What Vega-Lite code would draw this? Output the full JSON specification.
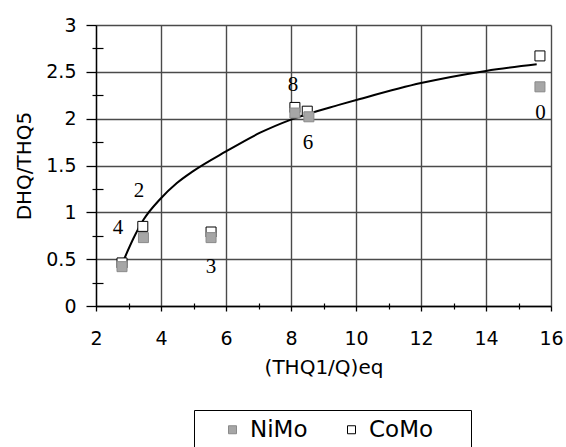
{
  "$schema": "https://vega.github.io/schema/vega-lite/v6.json",
  "width": 455,
  "height": 281,
  "autosize": {"type": "none"},
  "padding": {"left": 96, "top": 25, "right": 15, "bottom": 141},
  "config": {"view": {"stroke": null}, "font": "DejaVu Sans"},
  "datasets": {
    "pts": [
      {"x": 2.8, "y": 0.46, "series": "CoMo"},
      {"x": 3.44, "y": 0.85, "series": "CoMo"},
      {"x": 5.54, "y": 0.79, "series": "CoMo"},
      {"x": 8.12, "y": 2.12, "series": "CoMo"},
      {"x": 8.5, "y": 2.08, "series": "CoMo"},
      {"x": 15.66, "y": 2.67, "series": "CoMo"},
      {"x": 2.8, "y": 0.42, "series": "NiMo"},
      {"x": 3.46, "y": 0.73, "series": "NiMo"},
      {"x": 5.54, "y": 0.73, "series": "NiMo"},
      {"x": 8.12, "y": 2.06, "series": "NiMo"},
      {"x": 8.55, "y": 2.02, "series": "NiMo"},
      {"x": 15.66, "y": 2.34, "series": "NiMo"}
    ],
    "curve": [
      {"x": 2.84, "y": 0.48},
      {"x": 3.15, "y": 0.72},
      {"x": 3.46, "y": 0.92},
      {"x": 3.97, "y": 1.14},
      {"x": 4.48, "y": 1.31},
      {"x": 4.99, "y": 1.44},
      {"x": 6.0, "y": 1.65},
      {"x": 7.05, "y": 1.85},
      {"x": 8.0, "y": 1.99},
      {"x": 9.5, "y": 2.15},
      {"x": 10.12, "y": 2.21},
      {"x": 12.0, "y": 2.38},
      {"x": 14.0, "y": 2.51},
      {"x": 15.56, "y": 2.58}
    ],
    "labels": [
      {"x": 8.06, "y": 2.36, "t": "8"},
      {"x": 8.52, "y": 1.74, "t": "6"},
      {"x": 3.32, "y": 1.23, "t": "2"},
      {"x": 2.68, "y": 0.83, "t": "4"},
      {"x": 5.54, "y": 0.42, "t": "3"},
      {"x": 15.68, "y": 2.06, "t": "0"}
    ]
  },
  "resolve": {"axis": {"x": "independent", "y": "independent"}},
  "layer": [
    {
      "data": {"name": "curve"},
      "mark": {"type": "line", "color": "#000", "strokeWidth": 2, "interpolate": "monotone"},
      "encoding": {
        "x": {
          "field": "x", "type": "quantitative",
          "scale": {"domain": [2, 16], "nice": false, "zero": false},
          "axis": {
            "orient": "bottom",
            "values": [2, 4, 6, 8, 10, 12, 14, 16],
            "format": "~g",
            "grid": true, "gridColor": "#4a4a4a", "gridWidth": 1.4,
            "domainColor": "#000", "domainWidth": 1.3,
            "tickColor": "#000", "tickSize": 5, "tickWidth": 1.3,
            "labelFontSize": 19, "labelColor": "#000", "labelPadding": 18,
            "labelFlush": false,
            "title": "(THQ1/Q)eq", "titleFontSize": 20, "titleFontWeight": "normal",
            "titleColor": "#000", "titlePadding": 9
          }
        },
        "y": {
          "field": "y", "type": "quantitative",
          "scale": {"domain": [0, 3], "nice": false},
          "axis": {
            "orient": "left",
            "values": [0, 0.5, 1, 1.5, 2, 2.5, 3],
            "format": "~g",
            "grid": true, "gridColor": "#4a4a4a", "gridWidth": 1.4,
            "domainColor": "#000", "domainWidth": 1.3,
            "tickColor": "#000", "tickSize": 10, "tickWidth": 1.3,
            "labelFontSize": 19, "labelColor": "#000", "labelPadding": 10,
            "labelFlush": false,
            "title": "DHQ/THQ5", "titleFontSize": 20, "titleFontWeight": "normal",
            "titleColor": "#000", "titleX": -62
          }
        }
      }
    },
    {
      "data": {"name": "curve"},
      "mark": {"type": "line", "opacity": 0},
      "encoding": {
        "x": {
          "field": "x", "type": "quantitative",
          "axis": {
            "orient": "bottom", "values": [3, 5, 7, 9, 11, 13, 15],
            "offset": -3, "tickSize": 6, "tickColor": "#000", "tickWidth": 1.2,
            "labels": false, "domain": false, "grid": false, "title": null
          }
        },
        "y": {
          "field": "y", "type": "quantitative",
          "axis": {
            "orient": "left", "values": [0.25, 0.75, 1.25, 1.75, 2.25, 2.75],
            "offset": -7, "tickSize": 11, "tickColor": "#000", "tickWidth": 1.2,
            "labels": false, "domain": false, "grid": false, "title": null
          }
        }
      }
    },
    {
      "data": {"name": "pts"},
      "mark": {"type": "point", "shape": "square", "size": 100, "strokeWidth": 1, "opacity": 1},
      "encoding": {
        "x": {"field": "x", "type": "quantitative", "axis": null},
        "y": {"field": "y", "type": "quantitative", "axis": null},
        "fill": {
          "field": "series", "type": "nominal",
          "scale": {"domain": ["NiMo", "CoMo"], "range": ["#a6a6a6", "#ffffff"]},
          "legend": {
            "orient": "none", "legendX": 98, "legendY": 385,
            "direction": "horizontal",
            "title": "xxxx", "titleOrient": "right", "titleFontSize": 10,
            "titleColor": "transparent", "titleOpacity": 0,
            "titlePadding": 4,
            "strokeColor": "#000", "padding": 8,
            "labelFontSize": 23, "labelColor": "#000",
            "symbolSize": 64, "symbolType": "square", "symbolStrokeWidth": 1,
            "symbolOffset": 19,
            "labelOffset": 6, "columnPadding": 13
          }
        },
        "stroke": {
          "field": "series", "type": "nominal",
          "scale": {"domain": ["NiMo", "CoMo"], "range": ["#8a8a8a", "#000000"]}
        }
      }
    },
    {
      "data": {"name": "labels"},
      "mark": {"type": "text", "font": "Liberation Serif", "fontSize": 21, "color": "#000"},
      "encoding": {
        "x": {"field": "x", "type": "quantitative", "axis": null},
        "y": {"field": "y", "type": "quantitative", "axis": null},
        "text": {"field": "t"}
      }
    }
  ]
}
